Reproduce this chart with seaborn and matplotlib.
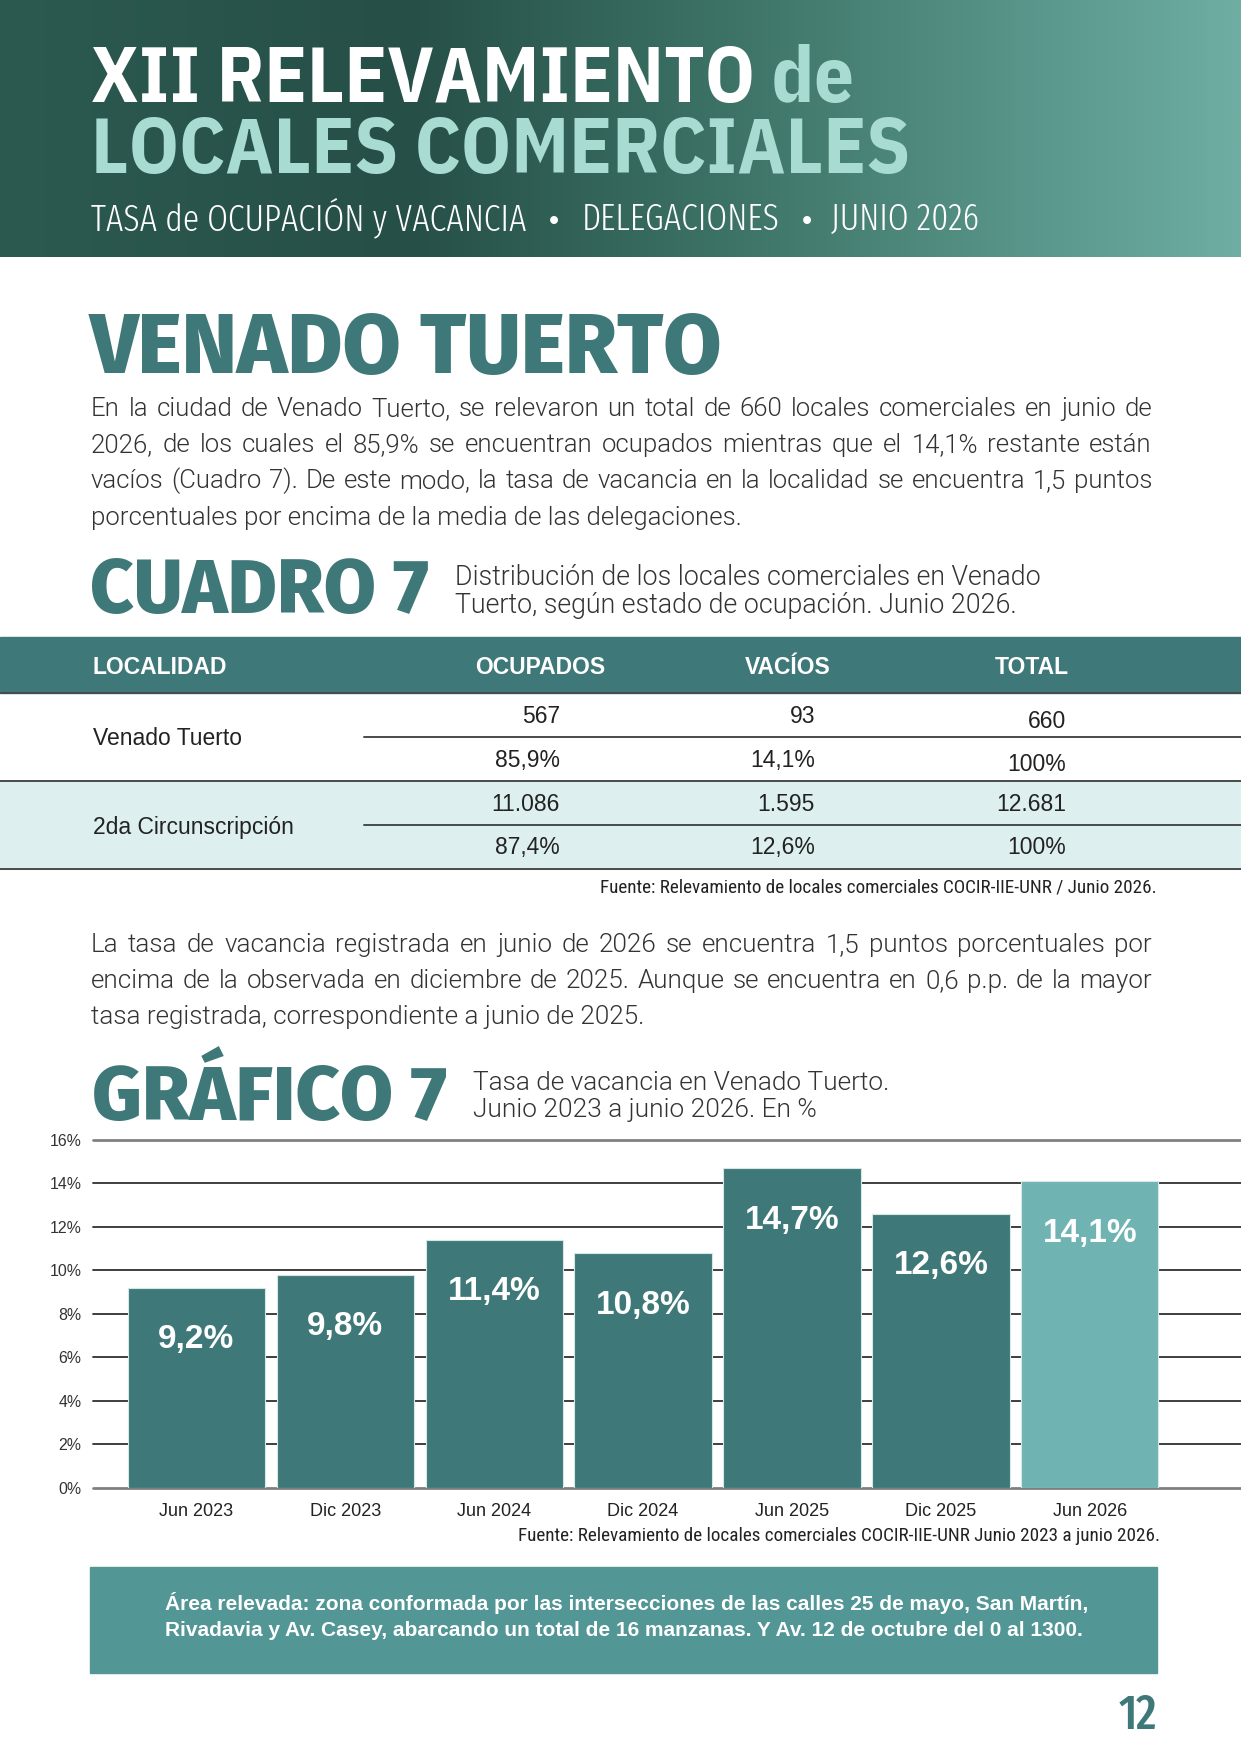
import numpy as np
import pandas as pd
import matplotlib
matplotlib.use("Agg")
import matplotlib.pyplot as plt
import seaborn as sns
from matplotlib.colors import to_rgb
from matplotlib.patches import Rectangle

# ---------------- data ----------------
periods = ["Jun 2023", "Dic 2023", "Jun 2024", "Dic 2024", "Jun 2025", "Dic 2025", "Jun 2026"]
vacancy = [9.2, 9.8, 11.4, 10.8, 14.7, 12.6, 14.1]
value_labels = ["9,2%", "9,8%", "11,4%", "10,8%", "14,7%", "12,6%", "14,1%"]
y_ticks = [0, 2, 4, 6, 8, 10, 12, 14, 16]
y_tick_labels = ["0%", "2%", "4%", "6%", "8%", "10%", "12%", "14%", "16%"]

table_columns = ["LOCALIDAD", "OCUPADOS", "VACÍOS", "TOTAL"]
table_places = ["Venado Tuerto", "2da Circunscripción"]
occupied_counts = ["567", "11.086"]
occupied_pct = ["85,9%", "87,4%"]
empty_counts = ["93", "1.595"]
empty_pct = ["14,1%", "12,6%"]
total_counts = ["660", "12.681"]
total_pct = ["100%", "100%"]

title_1 = "XII RELEVAMIENTO"
title_1b = " de"
title_2 = "LOCALES COMERCIALES"
subtitle_parts = ["TASA de OCUPACIÓN y VACANCIA", "DELEGACIONES", "JUNIO 2026"]
city = "VENADO TUERTO"
para_1 = [
    "En la ciudad de Venado Tuerto, se relevaron un total de 660 locales comerciales en junio de",
    "2026, de los cuales el 85,9% se encuentran ocupados mientras que el 14,1% restante están",
    "vacíos (Cuadro 7). De este modo, la tasa de vacancia en la localidad se encuentra 1,5 puntos",
    "porcentuales por encima de la media de las delegaciones.",
]
cuadro_title = "CUADRO 7"
cuadro_desc = ["Distribución de los locales comerciales en Venado",
               "Tuerto, según estado de ocupación. Junio 2026."]
table_source = "Fuente: Relevamiento de locales comerciales COCIR-IIE-UNR / Junio 2026."
para_2 = [
    "La tasa de vacancia registrada en junio de 2026 se encuentra 1,5 puntos porcentuales por",
    "encima de la observada en diciembre de 2025. Aunque se encuentra en 0,6 p.p. de la mayor",
    "tasa registrada, correspondiente a junio de 2025.",
]
grafico_title = "GRÁFICO 7"
grafico_desc = ["Tasa de vacancia en Venado Tuerto.", "Junio 2023 a junio 2026. En %"]
chart_source = "Fuente: Relevamiento de locales comerciales COCIR-IIE-UNR Junio 2023 a junio 2026."
area_note = ["Área relevada: zona conformada por las intersecciones de las calles 25 de mayo, San Martín,",
             "Rivadavia y Av. Casey, abarcando un total de 16 manzanas. Y Av. 12 de octubre del 0 al 1300."]
page_number = "12"

# ---------------- style ----------------
sns.set_theme(style="white")
BODY = "Liberation Sans"
plt.rcParams["font.family"] = [BODY, "DejaVu Sans"]
TITLE_F = ["IBM Plex Sans Condensed", "DejaVu Sans"]
HEAD_F = ["Fira Sans", "DejaVu Sans"]
THIN_F = ["Fira Sans Extra Condensed", "DejaVu Sans"]
NARROW_F = ["Roboto Condensed", "Liberation Sans"]
LIGHT_F = ["Roboto", "Liberation Sans"]

TEAL = "#3F7878"
LIGHT_TEAL = "#70B3B3"
BOX_TEAL = "#529696"
MINT = "#A8DCD3"
TXT = "#333333"

W, H = 1241, 1754
fig = plt.figure(figsize=(W / 100, H / 100), dpi=100)
page = fig.add_axes([0, 0, 1, 1])
page.set_xlim(0, W)
page.set_ylim(H, 0)
page.axis("off")
R = fig.canvas.get_renderer()


def width_of(t):
    return t.get_window_extent(R).width


def put(x, y, s, size, target_w=None, **kw):
    kw.setdefault("va", "baseline")
    t = page.text(x, y, s, fontsize=size, **kw)
    if target_w is not None:
        t.set_fontsize(size * target_w / width_of(t))
    return t


def justified(lines, x0, x1, y0, dy, size, fill=0.975, **kw):
    # font size chosen so that the widest line fills the column with near-normal spacing
    probe = [page.text(0, 0, ln, fontsize=size, **kw) for ln in lines[:-1]]
    widest = max(width_of(p) for p in probe)
    for p in probe:
        p.remove()
    size = size * (x1 - x0) * fill / widest
    for i, line in enumerate(lines):
        y = y0 + i * dy
        if i == len(lines) - 1:
            page.text(x0, y, line, fontsize=size, va="baseline", **kw)
            continue
        words = line.split(" ")
        objs = [page.text(0, y, w, fontsize=size, va="baseline", **kw) for w in words]
        ws = [width_of(o) for o in objs]
        gap = (x1 - x0 - sum(ws)) / (len(words) - 1)
        x = x0
        for o, w in zip(objs, ws):
            o.set_x(x)
            x += w + gap


# ---------------- header band ----------------
stops = [(0.0, "#2C5A50"), (0.33, "#264F47"), (0.6, "#3E7568"), (1.0, "#6EAEA3")]
xs = np.linspace(0, 1, 600)
cols = np.zeros((1, 600, 3))
for c in range(3):
    cols[0, :, c] = np.interp(xs, [s[0] for s in stops], [to_rgb(s[1])[c] for s in stops])
page.imshow(cols, extent=[0, W, 257, 0], aspect="auto", zorder=0)

t1 = put(91, 102, title_1 + title_1b, 50, target_w=764, color="white", fontweight="bold", family=TITLE_F)
fs1 = t1.get_fontsize()
t1.set_text(title_1)
wa = width_of(t1)
put(91 + wa, 102, title_1b, fs1, color=MINT, fontweight="bold", family=TITLE_F)
put(91, 173, title_2, 50, target_w=819, color=MINT, fontweight="bold", family=TITLE_F)

s1 = put(91, 230, subtitle_parts[0], 30, target_w=435, color="white", fontweight=300, family=THIN_F)
sfs = s1.get_fontsize()
put(582, 230, subtitle_parts[1], sfs, color="white", fontweight=300, family=THIN_F)
put(831, 230, subtitle_parts[2], sfs, color="white", fontweight=300, family=THIN_F)
for bx in (554, 807):
    put(bx, 222, "•", sfs * 0.8, color="white", ha="center", va="center", family=["Liberation Sans"])

# ---------------- section texts ----------------
put(90, 373, city, 50, target_w=633, color=TEAL, fontweight=800, family=HEAD_F)
justified(para_1, 91, 1152, 415.7, 36.3, 17, color=TXT, family=LIGHT_F, fontweight=300)

put(90, 613, cuadro_title, 40, target_w=339, color=TEAL, fontweight=800, family=HEAD_F)
d1 = put(455, 585, cuadro_desc[0], 16, target_w=586, color=TXT, family=LIGHT_F, fontweight=300)
put(455, 613, cuadro_desc[1], d1.get_fontsize(), color=TXT, family=LIGHT_F, fontweight=300)

# ---------------- table ----------------
page.add_patch(Rectangle((0, 637), W, 56, color=TEAL, zorder=1))
page.add_patch(Rectangle((0, 780.7), W, 88.3, color="#DDF0EF", zorder=1))
for yy, x0 in [(693, 0), (737, 364), (780.7, 0), (825, 364), (869, 0)]:
    page.plot([x0, W], [yy, yy], color="#4a4a4a", lw=1.4, zorder=2)
hdr_x = [92.6, 540, 787.5, 1032]
hdr_ha = ["left", "center", "center", "center"]
for s, x, ha in zip(table_columns, hdr_x, hdr_ha):
    page.text(x, 674, s, fontsize=16.5, fontweight="bold", color="white", ha=ha, va="baseline", zorder=3)
row_base = [[723, 767, 728, 771], [811, 854, 811, 854]]
name_base = [745, 834]
for i in range(2):
    page.text(93, name_base[i], table_places[i], fontsize=16.5, color="#222", va="baseline", zorder=3)
    cells = [(560, occupied_counts[i], occupied_pct[i]), (815, empty_counts[i], empty_pct[i]),
             (1066, total_counts[i], total_pct[i])]
    for j, (x, a, b) in enumerate(cells):
        ya = row_base[i][2] if j == 2 else row_base[i][0]
        yb = row_base[i][3] if j == 2 else row_base[i][1]
        page.text(x, ya, a, fontsize=16.5, color="#222", ha="right", va="baseline", zorder=3)
        page.text(x, yb, b, fontsize=16.5, color="#222", ha="right", va="baseline", zorder=3)
put(1157, 892, table_source, 11, target_w=557, color="#222", ha="right", family=NARROW_F)

justified(para_2, 91, 1152, 951.7, 36.3, 17, color=TXT, family=LIGHT_F, fontweight=300)

put(92, 1120, grafico_title, 40, target_w=355, color=TEAL, fontweight=800, family=HEAD_F)
g1 = put(473, 1090, grafico_desc[0], 16, target_w=418, color=TXT, family=LIGHT_F, fontweight=300)
put(473, 1117, grafico_desc[1], g1.get_fontsize(), color=TXT, family=LIGHT_F, fontweight=300)

# ---------------- chart ----------------
ax_l, ax_r, ax_t, ax_b = 92.7, 1241, 1140, 1487.7
ax = fig.add_axes([ax_l / W, (H - ax_b) / H, (ax_r - ax_l) / W, (ax_b - ax_t) / H])
df = pd.DataFrame({"periodo": periods, "vacancia": vacancy})
bar_colors = [TEAL] * 6 + [LIGHT_TEAL]
sns.barplot(data=df, x="periodo", y="vacancia", hue="periodo", palette=bar_colors, legend=False,
            width=0.922, edgecolor="#d5e6e6", linewidth=0.8, saturation=1, ax=ax)
ax.set_xlim(-0.696, 7.015)
ax.set_ylim(0, 16)
ax.set_yticks(y_ticks, y_tick_labels)
ax.set_xlabel("")
ax.set_ylabel("")
for sp in ax.spines.values():
    sp.set_visible(False)
ax.set_axisbelow(True)
ax.grid(axis="y", color="#2f2f2f", lw=1.3)
ax.grid(axis="x", visible=False)
for gl, tv in zip(ax.get_ygridlines(), y_ticks):
    gl.set_clip_on(False)
    if tv in (0, 16):
        gl.set_color("#808080")
        gl.set_linewidth(2)
ax.tick_params(axis="y", length=0, pad=8, labelsize=11.4, labelcolor="#333")
ax.tick_params(axis="x", length=0, pad=11, labelsize=13, labelcolor="#222")
ax.patch.set_alpha(0)
for cont, lab in zip(ax.containers, value_labels):
    p = cont.patches[0]
    ax.annotate(lab, (p.get_x() + p.get_width() / 2, p.get_height()), xytext=(0, -52),
                textcoords="offset pixels", ha="center", va="center", color="white",
                fontsize=24, fontweight="bold")

put(1160, 1541, chart_source, 11, target_w=643, color="#222", ha="right", family=NARROW_F)

# ---------------- bottom note ----------------
page.add_patch(Rectangle((90, 1567), 1067, 106, color=BOX_TEAL, zorder=1))
n1 = put(165, 1610, area_note[0], 12, target_w=919, color="white", fontweight="bold", zorder=3)
put(165, 1636, area_note[1], n1.get_fontsize(), color="white", fontweight="bold", zorder=3)

put(1157, 1729, page_number, 35, color=TEAL, ha="right", fontweight=500, family=THIN_F)

fig.savefig("out.png", dpi=100)
